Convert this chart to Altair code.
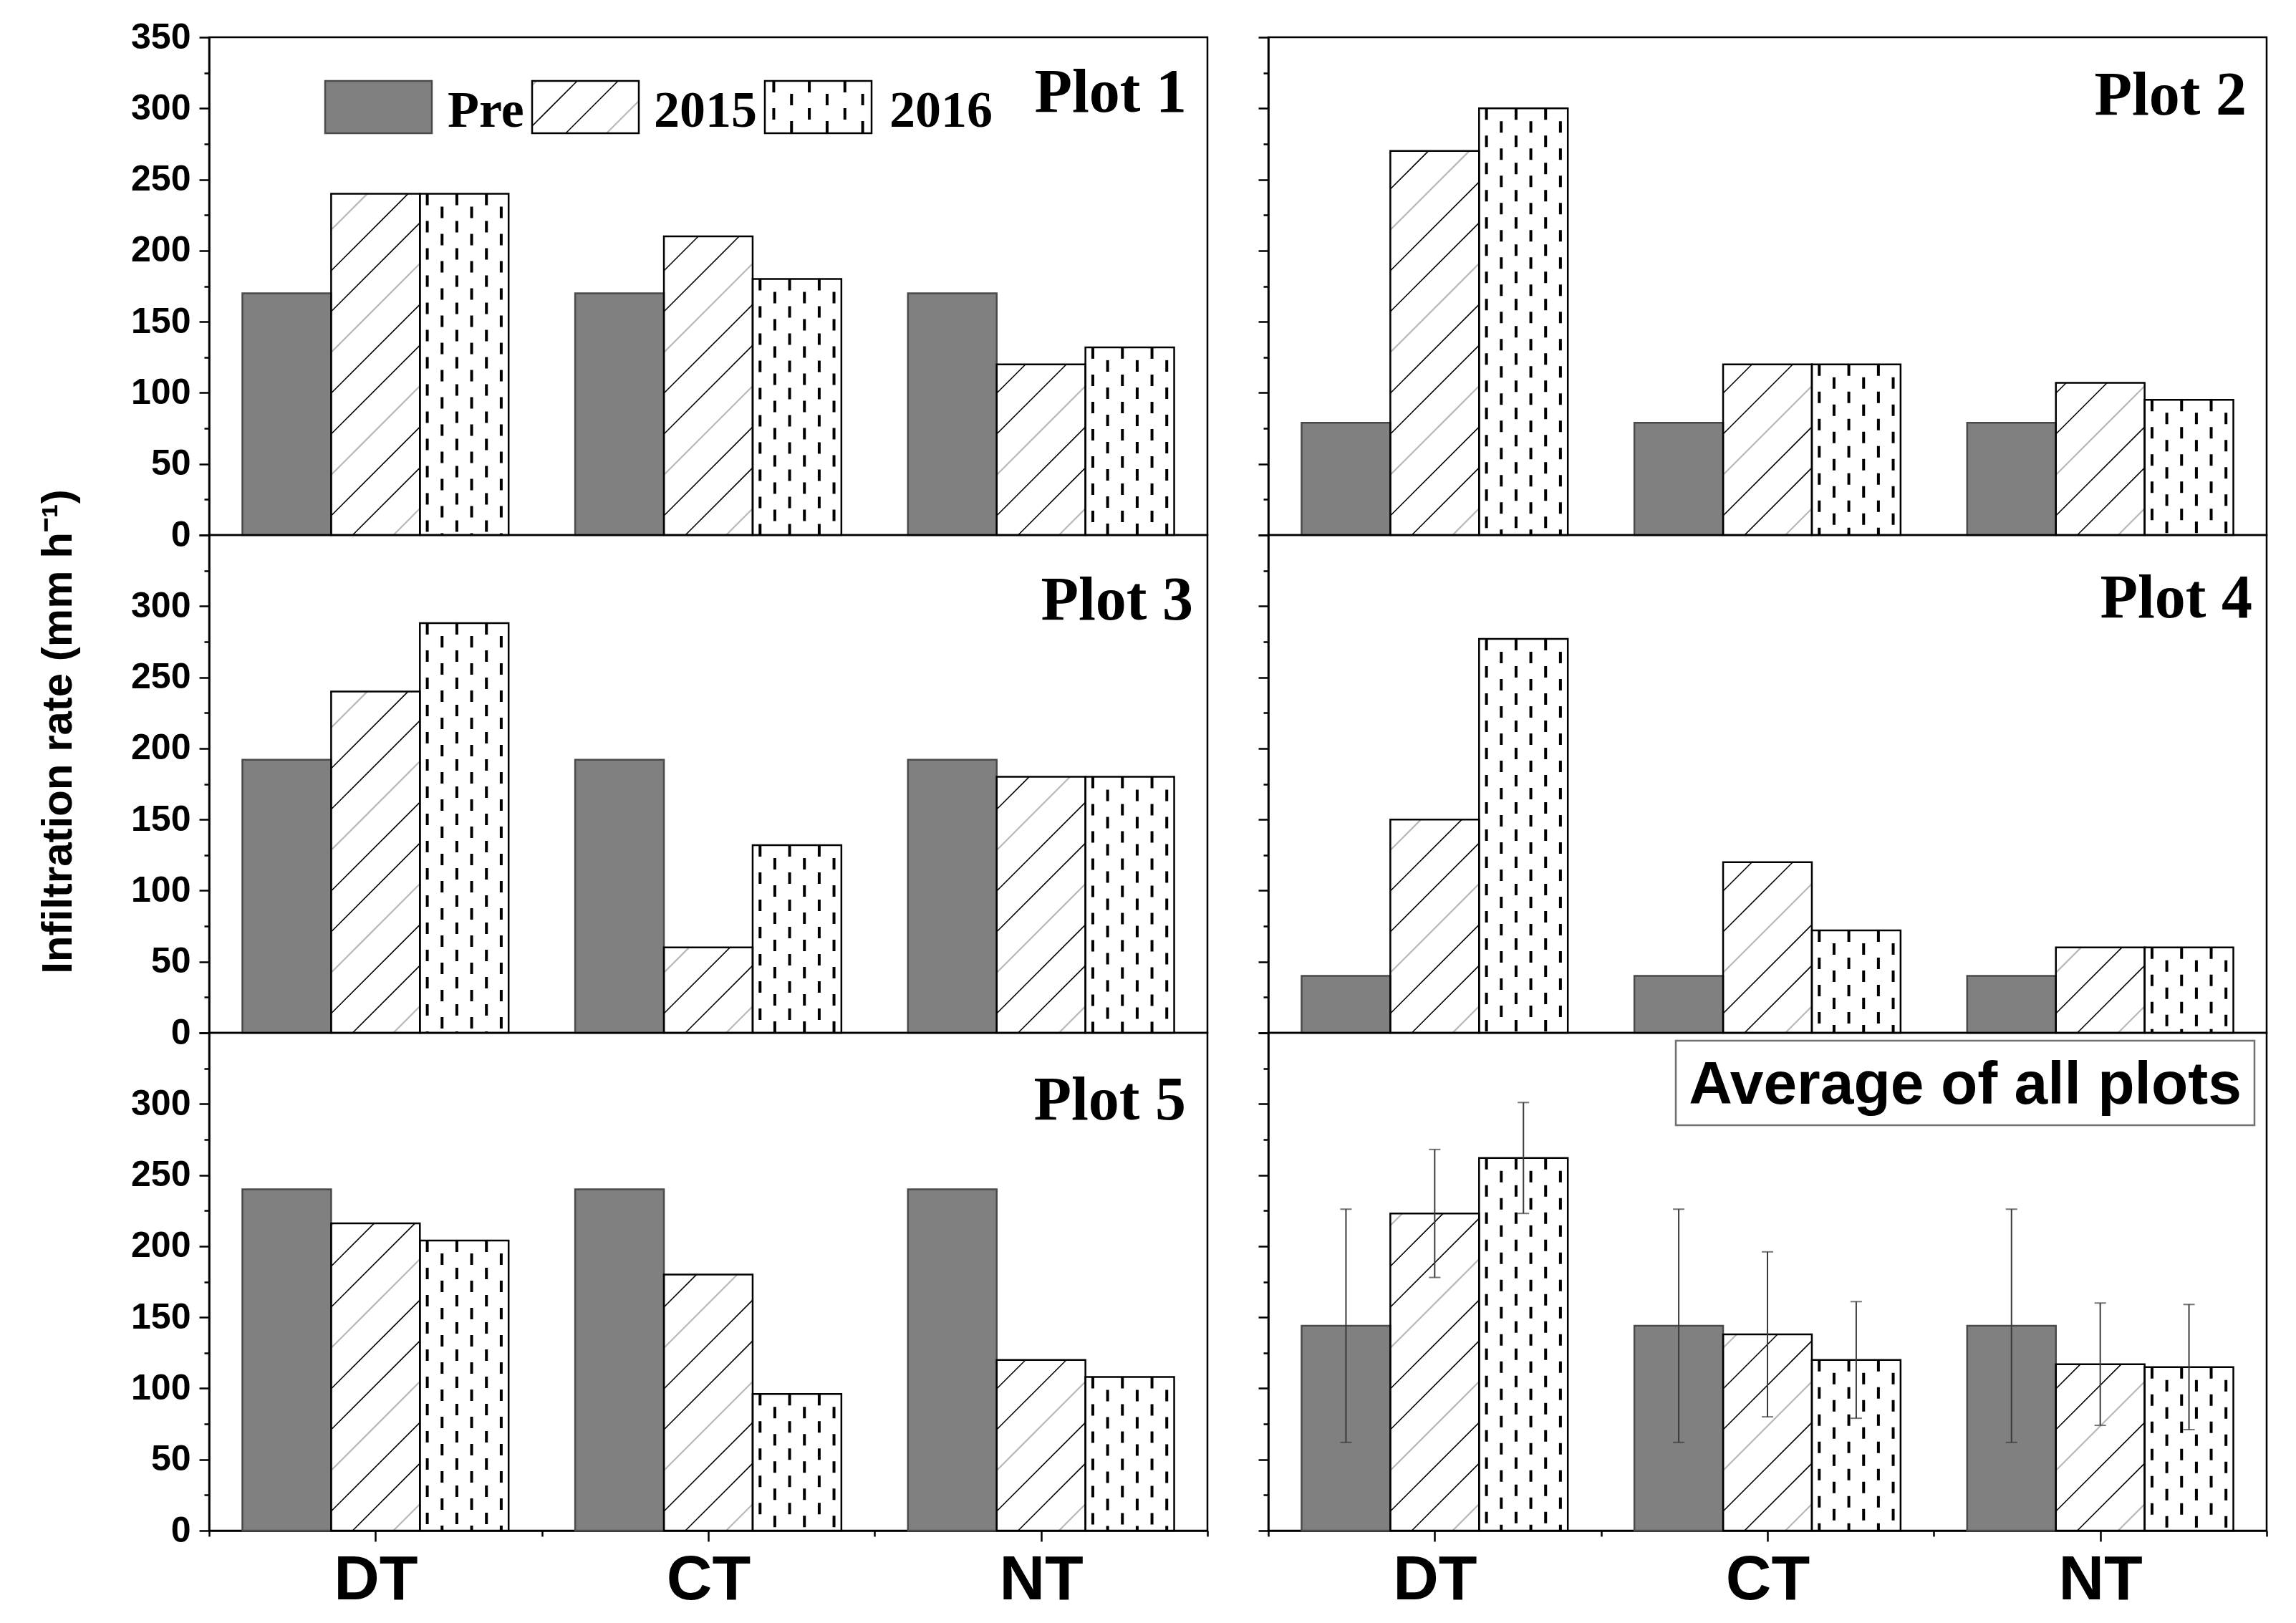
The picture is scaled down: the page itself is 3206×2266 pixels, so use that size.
import math
import altair as alt
import pandas as pd

# ---------------- data ----------------
groups = ["DT", "CT", "NT"]
series = ["Pre", "2015", "2016"]

plot1_pre = [170, 170, 170]
plot1_2015 = [240, 210, 120]
plot1_2016 = [240, 180, 132]

plot2_pre = [79, 79, 79]
plot2_2015 = [270, 120, 107]
plot2_2016 = [300, 120, 95]

plot3_pre = [192, 192, 192]
plot3_2015 = [240, 60, 180]
plot3_2016 = [288, 132, 180]

plot4_pre = [40, 40, 40]
plot4_2015 = [150, 120, 60]
plot4_2016 = [277, 72, 60]

plot5_pre = [240, 240, 240]
plot5_2015 = [216, 180, 120]
plot5_2016 = [204, 96, 108]

avg_pre = [144, 144, 144]
avg_2015 = [223, 138, 117]
avg_2016 = [262, 120, 115]
avg_sd_pre = [82, 82, 82]
avg_sd_2015 = [45, 58, 43]
avg_sd_2016 = [39, 41, 44]

panel_labels = ["Plot 1", "Plot 2", "Plot 3", "Plot 4", "Plot 5"]
avg_label = "Average of all plots"
y_title = "Infiltration rate (mm h\u207b\u00b9)"
y_ticks = list(range(0, 351, 25))
x_ticks = [-0.5, 0, 0.5, 1, 1.5, 2, 2.5]

# ---------------- layout / style ----------------
W, H = 1394, 695
YMAX = 350
GAP = 85
GROUP_FRAC = 0.8
BW = GROUP_FRAC / 3.0
PXX = W / 3.0          # px per x data unit
PXY = H / YMAX         # px per y data unit
HATCH_SP = 57
DASH = [16, 22]
PRE_FILL = "#808080"
PRE_STROKE = "#4a4a4a"
GRAY_LINE = "#b8b8b8"
SANS = "Liberation Sans"
SERIF = "Liberation Serif"


def hatch_segments(w_px, h_px, phase, gray_mod):
    segs = []
    kmin = math.floor((-w_px - phase) / HATCH_SP) - 1
    kmax = math.ceil((h_px - phase) / HATCH_SP) + 1
    for k in range(kmin, kmax + 1):
        c = phase + k * HATCH_SP
        u0 = max(0.0, -c)
        u1 = min(w_px, h_px - c)
        if u1 - u0 > 2:
            segs.append((u0, u0 + c, u1, u1 + c, (k % 3) == gray_mod))
    return segs


def xscale():
    return alt.Scale(domain=[-0.5, 2.5], nice=False, zero=False)


def yscale():
    return alt.Scale(domain=[0, YMAX], nice=False, zero=True)


def make_axes(row, col):
    if col == 0:
        if row == 0:
            lexpr = "datum.value % 50 === 0 ? datum.label : ''"
        else:
            lexpr = "datum.value % 50 === 0 && datum.value < 350 ? datum.label : ''"
    else:
        lexpr = "''"
    yargs = dict(
        values=y_ticks, labelExpr=lexpr, labels=(col == 0),
        tickSize={"condition": {"test": "datum.value % 50 === 0", "value": 14}, "value": 7},
        labelPadding=12, labelFontSize=50, labelOverlap=False, grid=False,
    )
    if row == 1 and col == 0:
        yargs.update(title=y_title, titleX=-193, titleY=274, titleAngle=270,
                     titleBaseline="alphabetic", titleAlign="center", titleFontSize=60)
    else:
        yargs.update(title=None)
    yaxis = alt.Axis(**yargs)
    if row == 2:
        xaxis = alt.Axis(
            values=x_ticks,
            labelExpr="datum.value === 0 ? 'DT' : datum.value === 1 ? 'CT' : datum.value === 2 ? 'NT' : ''",
            tickSize={"condition": {"test": "datum.value % 1 === 0", "value": 15}, "value": 8},
            labelFontSize=88, labelPadding=10, labelFlush=False, labelOverlap=False,
            grid=False, title=None,
        )
    else:
        xaxis = None
    return xaxis, yaxis


def one():
    return pd.DataFrame({"k": [0]})


def make_panel(pre, v15, v16, row, col, label, lab_dx, lab_y,
               sd=None, legend=False, boxed=False):
    xaxis, yaxis = make_axes(row, col)

    def X(f):
        return alt.X(f, type="quantitative", scale=xscale(), axis=xaxis)

    def Y(f):
        return alt.Y(f, type="quantitative", scale=yscale(), axis=yaxis)

    vals = {"Pre": pre, "2015": v15, "2016": v16}
    sds = {"Pre": sd[0], "2015": sd[1], "2016": sd[2]} if sd else None
    bars, hat, dashes, errs = [], [], [], []
    for g, grp in enumerate(groups):
        for s, ser in enumerate(series):
            x0 = g - GROUP_FRAC / 2 + s * BW
            v = vals[ser][g]
            bars.append(dict(group=grp, series=ser, x0=x0, x1=x0 + BW, v=v, zero=0,
                             fillc=PRE_FILL if ser == "Pre" else "#ffffff",
                             strokec=PRE_STROKE if ser == "Pre" else "#000000"))
            if ser == "2015":
                for (u0, w0, u1, w1, gray) in hatch_segments(BW * PXX, v * PXY, -30, 2):
                    hat.append(dict(x=x0 + u0 / PXX, x2=x0 + u1 / PXX,
                                    y=w0 / PXY, y2=w1 / PXY,
                                    col=GRAY_LINE if gray else "#000000",
                                    sw=2.2 if gray else 1.6))
            if ser == "2016":
                for j in range(6):
                    dashes.append(dict(x=x0 + (j + 0.5) * BW / 6, v=v, zero=0, par=j % 2))
            if sds:
                e = sds[ser][g]
                errs.append(dict(xc=x0 + BW / 2, lo=v - e, hi=v + e))
    bdf = pd.DataFrame(bars)
    hdf = pd.DataFrame(hat)
    ddf = pd.DataFrame(dashes)

    layers = []
    layers.append(alt.Chart(bdf).mark_rect(strokeWidth=0).encode(
        x=X("x0"), x2="x1", y=Y("v"), y2="zero",
        color=alt.Color("fillc:N", scale=None)))
    layers.append(alt.Chart(hdf).mark_rule().encode(
        x=X("x"), x2="x2", y=Y("y"), y2="y2",
        color=alt.Color("col:N", scale=None),
        strokeWidth=alt.StrokeWidth("sw:Q", scale=None)))
    for par, off in [(0, 0), (1, 20)]:
        layers.append(alt.Chart(ddf[ddf.par == par]).mark_rule(
            color="black", strokeWidth=4, strokeDash=DASH, strokeDashOffset=off).encode(
            x=X("x"), y=Y("v"), y2="zero"))
    layers.append(alt.Chart(bdf).mark_rect(fillOpacity=0, strokeWidth=2.5).encode(
        x=X("x0"), x2="x1", y=Y("v"), y2="zero",
        stroke=alt.Stroke("strokec:N", scale=None)))
    if sds:
        edf = pd.DataFrame(errs)
        layers.append(alt.Chart(edf).mark_rule(color="#3a3a3a", strokeWidth=2).encode(
            x=X("xc"), y=Y("lo"), y2="hi"))
        for f in ["lo", "hi"]:
            layers.append(alt.Chart(edf).mark_tick(
                orient="horizontal", color="#3a3a3a", size=16, thickness=2).encode(
                x=X("xc"), y=Y(f)))

    if boxed:
        layers.append(alt.Chart(one()).mark_rect(
            fill="white", stroke="#707070", strokeWidth=2.5).encode(
            x=alt.value(569), x2=alt.value(1377), y=alt.value(11), y2=alt.value(129)))
        layers.append(alt.Chart(pd.DataFrame({"t": [label]})).mark_text(
            font=SANS, fontWeight="bold", fontSize=84, align="center",
            baseline="alphabetic", color="black").encode(
            text="t:N", x=alt.value(973), y=alt.value(99)))
    else:
        layers.append(alt.Chart(pd.DataFrame({"t": [label]})).mark_text(
            font=SERIF, fontWeight="bold", fontSize=86, align="right",
            baseline="alphabetic", color="black").encode(
            text="t:N", x=alt.value(W - lab_dx), y=alt.value(lab_y)))

    if legend:
        top, bot = 61, 134
        sw_w = 149
        keys = [("Pre", 162, 333), ("2015", 451, 621), ("2016", 776, 950)]
        for name, lx, tx in keys:
            if name == "Pre":
                layers.append(alt.Chart(one()).mark_rect(
                    fill=PRE_FILL, stroke=PRE_STROKE, strokeWidth=2.5).encode(
                    x=alt.value(lx), x2=alt.value(lx + sw_w),
                    y=alt.value(top), y2=alt.value(bot)))
            else:
                layers.append(alt.Chart(one()).mark_rect(fill="white", strokeWidth=0).encode(
                    x=alt.value(lx), x2=alt.value(lx + sw_w),
                    y=alt.value(top), y2=alt.value(bot)))
                if name == "2015":
                    for (u0, w0, u1, w1, gray) in hatch_segments(sw_w, bot - top, 10, 1):
                        layers.append(alt.Chart(one()).mark_rule(
                            color=GRAY_LINE if gray else "black",
                            strokeWidth=2.2 if gray else 1.6).encode(
                            x=alt.value(lx + u0), x2=alt.value(lx + u1),
                            y=alt.value(bot - w0), y2=alt.value(bot - w1)))
                else:
                    for j in range(6):
                        layers.append(alt.Chart(one()).mark_rule(
                            color="black", strokeWidth=4, strokeDash=DASH,
                            strokeDashOffset=0 if j % 2 == 0 else 20).encode(
                            x=alt.value(lx + (j + 0.5) * sw_w / 6),
                            y=alt.value(top), y2=alt.value(bot)))
                layers.append(alt.Chart(one()).mark_rect(
                    fillOpacity=0, stroke="black", strokeWidth=2.5).encode(
                    x=alt.value(lx), x2=alt.value(lx + sw_w),
                    y=alt.value(top), y2=alt.value(bot)))
            layers.append(alt.Chart(pd.DataFrame({"t": [name]})).mark_text(
                font=SERIF, fontWeight="bold", fontSize=72, align="left",
                baseline="alphabetic", color="black").encode(
                text="t:N", x=alt.value(tx), y=alt.value(125)))

    return alt.layer(*layers).properties(width=W, height=H)


p1 = make_panel(plot1_pre, plot1_2015, plot1_2016, 0, 0, panel_labels[0], 29, 104, legend=True)
p2 = make_panel(plot2_pre, plot2_2015, plot2_2016, 0, 1, panel_labels[1], 28, 108)
p3 = make_panel(plot3_pre, plot3_2015, plot3_2016, 1, 0, panel_labels[2], 20, 118)
p4 = make_panel(plot4_pre, plot4_2015, plot4_2016, 1, 1, panel_labels[3], 20, 115)
p5 = make_panel(plot5_pre, plot5_2015, plot5_2016, 2, 0, panel_labels[4], 30, 121)
p6 = make_panel(avg_pre, avg_2015, avg_2016, 2, 1, avg_label, 0, 0,
                sd=(avg_sd_pre, avg_sd_2015, avg_sd_2016), boxed=True)

chart = alt.concat(
    p1, p2, p3, p4, p5, p6, columns=2,
    spacing={"row": 0, "column": GAP}, bounds="flush",
).properties(
    padding={"left": 41, "top": 17, "right": 10, "bottom": 10},
    background="white",
).configure_view(
    stroke="black", strokeWidth=2.5
).configure_axis(
    domainColor="black", domainWidth=2.5, tickColor="black", tickWidth=2.5,
    labelFont=SANS, labelFontWeight="bold", labelColor="black",
    titleFont=SANS, titleFontWeight="bold", titleColor="black", grid=False,
)

chart.save("out.html", embed_options={"renderer": "svg", "actions": False})
